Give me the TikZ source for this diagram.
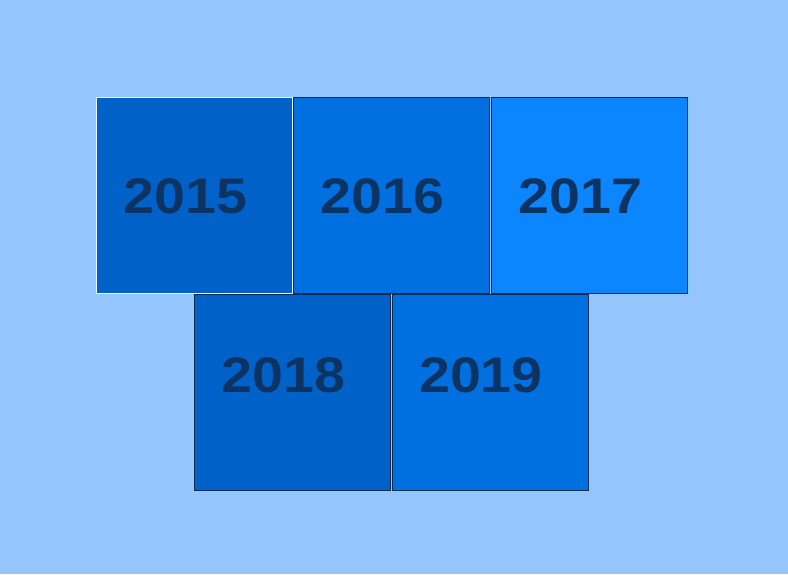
\documentclass[tikz,border=0pt]{standalone}
\usepackage{fontspec}
\setmainfont{Liberation Sans}
\definecolor{bg}{HTML}{94C6FD}
\definecolor{cA}{HTML}{0062C8}
\definecolor{cB}{HTML}{0070E0}
\definecolor{cC}{HTML}{0C86FF}
\definecolor{txt}{HTML}{0B3463}
\definecolor{edge}{HTML}{0A2A50}
\begin{document}
\begin{tikzpicture}[x=1pt,y=-1pt,
  sq/.style={draw=edge,line width=1pt,minimum size=196pt,inner sep=0pt,outer sep=0pt},
  lbl/.style={text=txt,font=\bfseries\fontsize{50}{50}\selectfont,inner sep=0pt,xscale=1.11}]
\fill[bg] (0,0) rectangle (788,574);
\useasboundingbox (0,0) rectangle (788,574);
\node[sq,fill=cB] (s2016) at (391,195) {};
\node[sq,fill=cC] (s2017) at (589,195) {};
\node[sq,fill=cA] (s2018) at (292.5,392) {};
\node[sq,fill=cB] (s2019) at (490,392) {};
\node[sq,fill=cA,draw=white!85!bg] (s2015) at (194,195) {};
\node[lbl] (t2015) at ([xshift=-8.5pt,yshift=-1.3pt]s2015.center) {2015};
\node[lbl] (t2016) at ([xshift=-8.5pt,yshift=-1.3pt]s2016.center) {2016};
\node[lbl] (t2017) at ([xshift=-8.5pt,yshift=-1.3pt]s2017.center) {2017};
\node[lbl] (t2018) at ([xshift=-9pt,yshift=17pt]s2018.center) {2018};
\node[lbl] (t2019) at ([xshift=-9pt,yshift=17pt]s2019.center) {2019};
\end{tikzpicture}
\end{document}
